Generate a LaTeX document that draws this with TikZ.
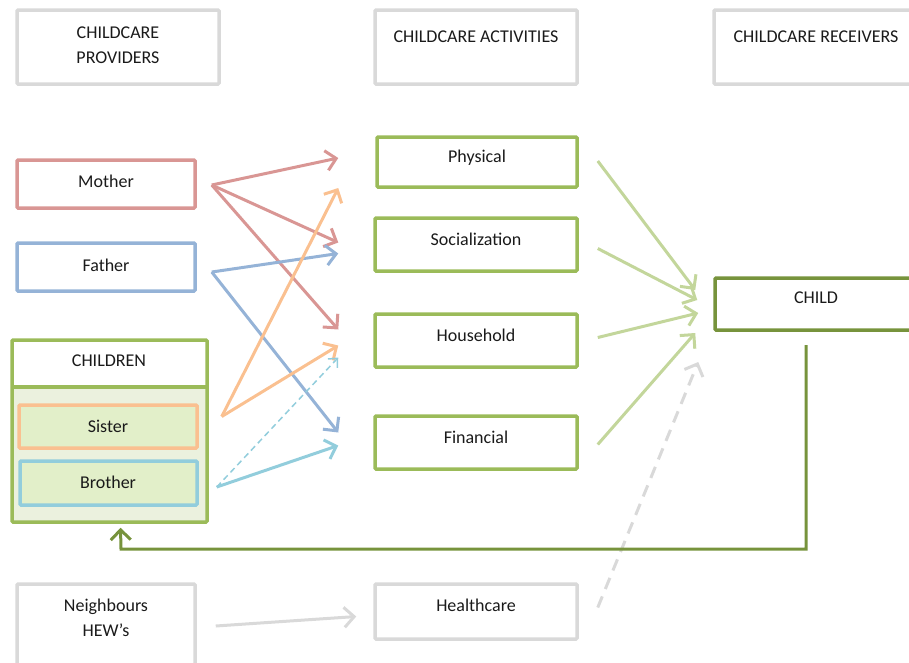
\documentclass[tikz,border=0pt]{standalone}
\usepackage{fontspec}
\setmainfont{Carlito}
\usetikzlibrary{arrows.meta,calc,fit}
\definecolor{mumred}{HTML}{D99694}
\definecolor{dadblue}{HTML}{95B3D7}
\definecolor{sisorange}{HTML}{FAC090}
\definecolor{brolblue}{HTML}{92CDDC}
\definecolor{actgreen}{HTML}{9BBB59}
\definecolor{arrgreen}{HTML}{C3D69B}
\definecolor{darkgreen}{HTML}{77933C}
\definecolor{boxgray}{HTML}{D9D9D9}
\definecolor{kidfill}{HTML}{EBF1DE}
\definecolor{sibfill}{HTML}{E2EFC9}
\definecolor{inktext}{HTML}{1A1A1A}
\begin{document}
\begin{tikzpicture}[x=1pt,y=-1pt,
  box/.style={draw=#1, line width=3.5pt, rounded corners=1pt, inner sep=0pt},
  txt/.style={font=\fontsize{18}{25}\selectfont, text=inktext, align=center, inner sep=0pt},
  arr/.style={draw=#1, line width=3pt, -{Straight Barb[length=10pt,width=20pt]}},
]
\useasboundingbox (0,0) rectangle (909,662);

% column headers
\node[box=boxgray, fit={(17,10)(219,84)}] (hprov) {};
\node[txt] (hprovT) at (118,45) {CHILDCARE\\PROVIDERS};
\node[box=boxgray, fit={(375,10)(577,84)}] (hact) {};
\node[txt] (hactT) at (476,37) {CHILDCARE ACTIVITIES};
\node[box=boxgray, fit={(714,10)(940,84)}] (hrec) {};
\node[txt] (hrecT) at (816,37) {CHILDCARE RECEIVERS};

% providers
\node[box=mumred, fit={(17,160)(195,208)}] (mother) {};
\node[txt] (motherT) at (106,181) {Mother};
\node[box=dadblue, fit={(17,243)(195,291)}] (father) {};
\node[txt] (fatherT) at (106,265) {Father};

% children group
\fill[kidfill] (12,387) rectangle (207,522);
\node[box=actgreen, fit={(12,340)(207,522)}] (children) {};
\draw[actgreen, line width=3.5pt] (12,387) -- (207,387);
\node[txt] (childrenT) at (109,361) {CHILDREN};
\node[box=sisorange, fill=sibfill, fit={(19,405)(197,448)}] (sister) {};
\node[txt] (sisterT) at (108,426) {Sister};
\node[box=brolblue, fill=sibfill, fit={(20,461)(197,505)}] (brother) {};
\node[txt] (brotherT) at (108,482) {Brother};

% others
\node[box=boxgray, fit={(17,584)(195,680)}] (neigh) {};
\node[txt] (neighT) at (106,618) {Neighbours\\HEW’s};

% activities
\node[box=actgreen, fit={(377,137)(577,187)}] (phys) {};
\node[txt] (physT) at (477,158) {Physical};
\node[box=actgreen, fit={(375,218)(577,271)}] (soc) {};
\node[txt] (socT) at (476,239) {Socialization};
\node[box=actgreen, fit={(375,314)(577,367)}] (house) {};
\node[txt] (houseT) at (476,335) {Household};
\node[box=actgreen, fit={(375,416)(577,469)}] (fin) {};
\node[txt] (finT) at (476,437) {Financial};
\node[box=boxgray, fit={(375,584)(577,639)}] (health) {};
\node[txt] (healthT) at (476,605) {Healthcare};

% receiver
\node[box=darkgreen, fit={(715,278)(940,330)}] (child) {};
\node[txt] (childT) at (816,298) {CHILD};

% arrow end points (gaps around the boxes)
\coordinate (mO) at ($(mother.east)+(15,1)$);
\coordinate (fO) at ($(father.east)+(15,5)$);
\coordinate (sO) at ($(sister.east)+(23,-10)$);
\coordinate (bO) at ($(brother.east)+(18,4)$);
\coordinate (nO) at ($(neigh.east)+(19,-6)$);
\coordinate (physIn) at ($(phys.west)+(-37,-4)$);
\coordinate (physIn2) at ($(phys.west)+(-37,26)$);
\coordinate (socIn) at ($(soc.west)+(-35,-2)$);
\coordinate (socIn2) at ($(soc.west)+(-35,9)$);
\coordinate (houseInM) at ($(house.west)+(-35,-11)$);
\coordinate (houseInS) at ($(house.west)+(-35,5)$);
\coordinate (houseInB) at ($(house.west)+(-35,17)$);
\coordinate (finIn) at ($(fin.west)+(-35,-10)$);
\coordinate (finIn2) at ($(fin.west)+(-35,3)$);
\coordinate (healthIn) at ($(health.west)+(-17,5)$);
\coordinate (physO) at ($(phys.east)+(19,-1)$);
\coordinate (socO) at ($(soc.east)+(19,4)$);
\coordinate (houseO) at ($(house.east)+(19,-3)$);
\coordinate (finO) at ($(fin.east)+(19,2)$);
\coordinate (healthO) at ($(health.east)+(19,-4)$);
\coordinate (cIn1) at ($(child.west)+(-18,-14)$);
\coordinate (cIn2) at ($(child.west)+(-16,-4)$);
\coordinate (cIn3) at ($(child.west)+(-15,9)$);
\coordinate (cIn4) at ($(child.west)+(-18,29)$);
\coordinate (cIn5) at ($(child.west)+(-15,58)$);
\coordinate (cDown) at (806,345);
\coordinate (cCorner) at (806,549);
\coordinate (kCorner) at (121,549);
\coordinate (kIn) at ($(children.south)+(11,4)$);

% providers to activities
\draw[arr=mumred] (mO) -- (physIn);
\draw[arr=mumred] (mO) -- (socIn);
\draw[arr=mumred] (mO) -- (houseInM);
\draw[arr=dadblue] (fO) -- (socIn2);
\draw[arr=dadblue] (fO) -- (finIn);
\draw[arr=sisorange] (sO) -- (physIn2);
\draw[arr=sisorange] (sO) -- (houseInS);
\draw[draw=brolblue, line width=1.5pt, dash pattern=on 6pt off 4pt, -{Straight Barb[length=7pt,width=13pt]}] (bO) -- (houseInB);
\draw[arr=brolblue] (bO) -- (finIn2);
\draw[arr=boxgray] (nO) -- (healthIn);

% activities to the child
\draw[arr=arrgreen] (physO) -- (cIn1);
\draw[arr=arrgreen] (socO) -- (cIn2);
\draw[arr=arrgreen] (houseO) -- (cIn3);
\draw[arr=arrgreen] (finO) -- (cIn4);
\draw[arr=boxgray, dash pattern=on 12pt off 8pt] (healthO) -- (cIn5);

% feedback from the child to the children
\draw[arr=darkgreen] (cDown) -- (cCorner) -- (kCorner) -- (kIn);
\end{tikzpicture}
\end{document}
